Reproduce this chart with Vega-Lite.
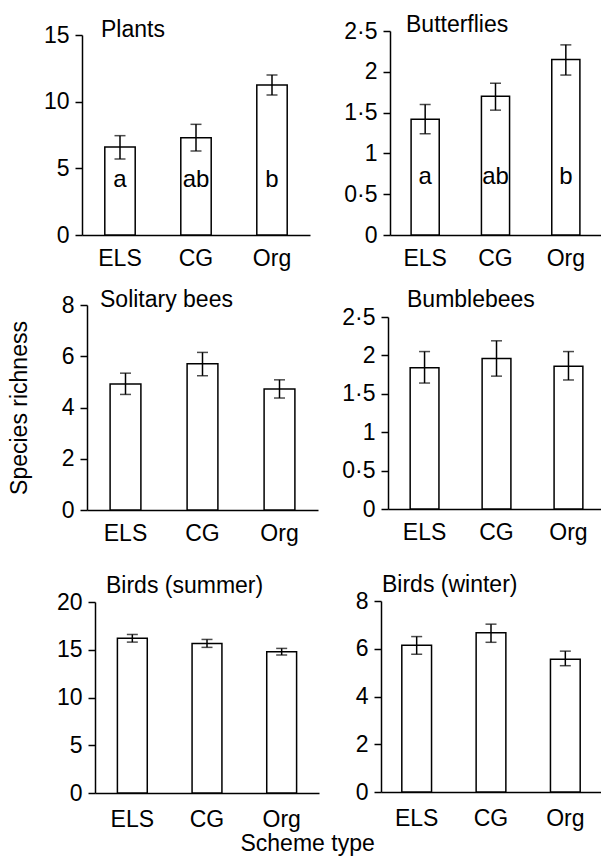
{
  "$schema": "https://vega.github.io/schema/vega-lite/v6.json",
  "autosize": {"type": "pad"},
  "padding": {"left": 8, "top": 14, "right": 0, "bottom": 0},
  "title": {"text": "Scheme type", "orient": "bottom", "anchor": "middle", "offset": 2, "dx": 3, "fontSize": 23},
  "datasets": {
    "plants": [
      {"scheme": "ELS", "mean": 6.6, "lo": 5.7, "hi": 7.45, "sig": "a"},
      {"scheme": "CG", "mean": 7.3, "lo": 6.3, "hi": 8.3, "sig": "ab"},
      {"scheme": "Org", "mean": 11.25, "lo": 10.5, "hi": 12.0, "sig": "b"}
    ],
    "butterflies": [
      {"scheme": "ELS", "mean": 1.42, "lo": 1.24, "hi": 1.6, "sig": "a"},
      {"scheme": "CG", "mean": 1.7, "lo": 1.53, "hi": 1.86, "sig": "ab"},
      {"scheme": "Org", "mean": 2.15, "lo": 1.96, "hi": 2.33, "sig": "b"}
    ],
    "solitary": [
      {"scheme": "ELS", "mean": 4.92, "lo": 4.51, "hi": 5.34},
      {"scheme": "CG", "mean": 5.71, "lo": 5.24, "hi": 6.15},
      {"scheme": "Org", "mean": 4.72, "lo": 4.37, "hi": 5.08}
    ],
    "bumblebees": [
      {"scheme": "ELS", "mean": 1.84, "lo": 1.64, "hi": 2.05},
      {"scheme": "CG", "mean": 1.96, "lo": 1.73, "hi": 2.19},
      {"scheme": "Org", "mean": 1.86, "lo": 1.68, "hi": 2.05}
    ],
    "summer": [
      {"scheme": "ELS", "mean": 16.2, "lo": 15.8, "hi": 16.6},
      {"scheme": "CG", "mean": 15.66, "lo": 15.25, "hi": 16.08},
      {"scheme": "Org", "mean": 14.8, "lo": 14.45, "hi": 15.14}
    ],
    "winter": [
      {"scheme": "ELS", "mean": 6.15, "lo": 5.77, "hi": 6.51},
      {"scheme": "CG", "mean": 6.67, "lo": 6.27, "hi": 7.03},
      {"scheme": "Org", "mean": 5.56, "lo": 5.29, "hi": 5.9}
    ]
  },
  "columns": 2,
  "align": "none",
  "spacing": {"row": 18, "column": 0},
  "concat": [
    {
      "data": {"name": "plants"},
      "width": 228, "height": 204,
      "title": {"text": "Plants", "anchor": "start", "frame": "group", "dx": 19, "offset": -17.5},
      "encoding": {"x": {"field": "scheme", "type": "nominal", "sort": ["ELS", "CG", "Org"], "scale": {"paddingInner": 0.6, "paddingOuter": 0.3}, "axis": {"title": null, "labelPadding": 12}}},
      "layer": [
        {"mark": {"type": "bar", "fill": "white", "stroke": "black", "strokeWidth": 1.5},
         "encoding": {"y": {"field": "mean", "type": "quantitative", "scale": {"domain": [0, 15], "nice": false, "range": [204, 4]}, "axis": {"title": null, "values": [0, 5, 10, 15]}}}},
        {"mark": {"type": "rule", "color": "black", "strokeWidth": 1.5},
         "encoding": {"y": {"field": "lo", "type": "quantitative", "title": null}, "y2": {"field": "hi"}}},
        {"mark": {"type": "tick", "color": "black", "thickness": 1.5, "size": 11},
         "encoding": {"y": {"field": "lo", "type": "quantitative", "title": null}}},
        {"mark": {"type": "tick", "color": "black", "thickness": 1.5, "size": 11},
         "encoding": {"y": {"field": "hi", "type": "quantitative", "title": null}}},
        {"mark": {"type": "text", "fontSize": 24, "color": "black", "baseline": "alphabetic"},
         "encoding": {"y": {"datum": 3.6, "type": "quantitative", "title": null}, "text": {"field": "sig"}}}
      ]
    },
    {
      "data": {"name": "butterflies"},
      "width": 211, "height": 204,
      "title": {"text": "Butterflies", "anchor": "start", "frame": "group", "dx": 16, "offset": -17},
      "encoding": {"x": {"field": "scheme", "type": "nominal", "sort": ["ELS", "CG", "Org"], "scale": {"paddingInner": 0.6, "paddingOuter": 0.3}, "axis": {"title": null, "labelPadding": 12}}},
      "layer": [
        {"mark": {"type": "bar", "fill": "white", "stroke": "black", "strokeWidth": 1.5},
         "encoding": {"y": {"field": "mean", "type": "quantitative", "scale": {"domain": [0, 2.5], "nice": false, "range": [204, 0]}, "axis": {"title": null, "values": [0, 0.5, 1, 1.5, 2, 2.5], "minExtent": 71}}}},
        {"mark": {"type": "rule", "color": "black", "strokeWidth": 1.5},
         "encoding": {"y": {"field": "lo", "type": "quantitative", "title": null}, "y2": {"field": "hi"}}},
        {"mark": {"type": "tick", "color": "black", "thickness": 1.5, "size": 11},
         "encoding": {"y": {"field": "lo", "type": "quantitative", "title": null}}},
        {"mark": {"type": "tick", "color": "black", "thickness": 1.5, "size": 11},
         "encoding": {"y": {"field": "hi", "type": "quantitative", "title": null}}},
        {"mark": {"type": "text", "fontSize": 24, "color": "black", "baseline": "alphabetic"},
         "encoding": {"y": {"datum": 0.625, "type": "quantitative", "title": null}, "text": {"field": "sig"}}}
      ]
    },
    {
      "data": {"name": "solitary"},
      "width": 236, "height": 205,
      "title": {"text": "Solitary bees", "anchor": "start", "frame": "group", "dx": 18, "offset": -17.5},
      "encoding": {"x": {"field": "scheme", "type": "nominal", "sort": ["ELS", "CG", "Org"], "scale": {"paddingInner": 0.6, "paddingOuter": 0.3, "range": [5, 236]}, "axis": {"title": null, "labelPadding": 12, "minExtent": 47}}},
      "layer": [
        {"mark": {"type": "bar", "fill": "white", "stroke": "black", "strokeWidth": 1.5},
         "encoding": {"y": {"field": "mean", "type": "quantitative", "scale": {"domain": [0, 8], "nice": false, "range": [205, 0]}, "axis": {"title": "Species richness", "titlePadding": 30, "offset": -5, "values": [0, 2, 4, 6, 8]}}}},
        {"mark": {"type": "rule", "color": "black", "strokeWidth": 1.5},
         "encoding": {"y": {"field": "lo", "type": "quantitative"}, "y2": {"field": "hi"}}},
        {"mark": {"type": "tick", "color": "black", "thickness": 1.5, "size": 11},
         "encoding": {"y": {"field": "lo", "type": "quantitative"}}},
        {"mark": {"type": "tick", "color": "black", "thickness": 1.5, "size": 11},
         "encoding": {"y": {"field": "hi", "type": "quantitative"}}}
      ]
    },
    {
      "data": {"name": "bumblebees"},
      "width": 213, "height": 205,
      "title": {"text": "Bumblebees", "anchor": "start", "frame": "group", "dx": 19, "offset": -7.5},
      "encoding": {"x": {"field": "scheme", "type": "nominal", "sort": ["ELS", "CG", "Org"], "scale": {"paddingInner": 0.6, "paddingOuter": 0.28, "align": 0.55}, "axis": {"title": null, "labelPadding": 12}}},
      "layer": [
        {"mark": {"type": "bar", "fill": "white", "stroke": "black", "strokeWidth": 1.5},
         "encoding": {"y": {"field": "mean", "type": "quantitative", "scale": {"domain": [0, 2.5], "nice": false, "range": [205, 13]}, "axis": {"title": null, "values": [0, 0.5, 1, 1.5, 2, 2.5], "minExtent": 69}}}},
        {"mark": {"type": "rule", "color": "black", "strokeWidth": 1.5},
         "encoding": {"y": {"field": "lo", "type": "quantitative", "title": null}, "y2": {"field": "hi"}}},
        {"mark": {"type": "tick", "color": "black", "thickness": 1.5, "size": 11},
         "encoding": {"y": {"field": "lo", "type": "quantitative", "title": null}}},
        {"mark": {"type": "tick", "color": "black", "thickness": 1.5, "size": 11},
         "encoding": {"y": {"field": "hi", "type": "quantitative", "title": null}}}
      ]
    },
    {
      "data": {"name": "summer"},
      "width": 237, "height": 191,
      "title": {"text": "Birds (summer)", "anchor": "start", "frame": "group", "dx": 24, "offset": -7},
      "encoding": {"x": {"field": "scheme", "type": "nominal", "sort": ["ELS", "CG", "Org"], "scale": {"paddingInner": 0.6, "paddingOuter": 0.3, "range": [13, 237]}, "axis": {"title": null, "labelPadding": 15}}},
      "layer": [
        {"mark": {"type": "bar", "fill": "white", "stroke": "black", "strokeWidth": 1.5},
         "encoding": {"y": {"field": "mean", "type": "quantitative", "scale": {"domain": [0, 20], "nice": false, "range": [191, 0]}, "axis": {"title": null, "offset": -13, "values": [0, 5, 10, 15, 20]}}}},
        {"mark": {"type": "rule", "color": "black", "strokeWidth": 1.5},
         "encoding": {"y": {"field": "lo", "type": "quantitative", "title": null}, "y2": {"field": "hi"}}},
        {"mark": {"type": "tick", "color": "black", "thickness": 1.5, "size": 11},
         "encoding": {"y": {"field": "lo", "type": "quantitative", "title": null}}},
        {"mark": {"type": "tick", "color": "black", "thickness": 1.5, "size": 11},
         "encoding": {"y": {"field": "hi", "type": "quantitative", "title": null}}}
      ]
    },
    {
      "data": {"name": "winter"},
      "width": 220, "height": 191,
      "title": {"text": "Birds (winter)", "anchor": "start", "frame": "group", "dx": 1, "offset": -7},
      "encoding": {"x": {"field": "scheme", "type": "nominal", "sort": ["ELS", "CG", "Org"], "scale": {"paddingInner": 0.6, "paddingOuter": 0.28}, "axis": {"title": null, "labelPadding": 15}}},
      "layer": [
        {"mark": {"type": "bar", "fill": "white", "stroke": "black", "strokeWidth": 1.5},
         "encoding": {"y": {"field": "mean", "type": "quantitative", "scale": {"domain": [0, 8], "nice": false, "range": [191, 0]}, "axis": {"title": null, "values": [0, 2, 4, 6, 8], "minExtent": 62}}}},
        {"mark": {"type": "rule", "color": "black", "strokeWidth": 1.5},
         "encoding": {"y": {"field": "lo", "type": "quantitative", "title": null}, "y2": {"field": "hi"}}},
        {"mark": {"type": "tick", "color": "black", "thickness": 1.5, "size": 11},
         "encoding": {"y": {"field": "lo", "type": "quantitative", "title": null}}},
        {"mark": {"type": "tick", "color": "black", "thickness": 1.5, "size": 11},
         "encoding": {"y": {"field": "hi", "type": "quantitative", "title": null}}}
      ]
    }
  ],
  "config": {
    "font": "Liberation Sans",
    "background": "white",
    "view": {"stroke": null},
    "axis": {"domainColor": "black", "domainWidth": 1.5, "tickColor": "black", "tickWidth": 1.5, "labelColor": "black", "labelFontSize": 23, "labelFont": "Liberation Sans", "grid": false, "titleFontSize": 23, "titleFontWeight": "normal", "titleColor": "black", "titleFont": "Liberation Sans", "labelOverlap": false},
    "axisX": {"ticks": false, "tickSize": 0, "labelAngle": 0},
    "axisY": {"tickSize": 7, "labelPadding": 6, "format": "~g", "labelExpr": "replace(datum.label, '.', '·')"},
    "title": {"fontSize": 23, "fontWeight": "normal", "color": "black", "font": "Liberation Sans"},
    "text": {"font": "Liberation Sans"}
  }
}
